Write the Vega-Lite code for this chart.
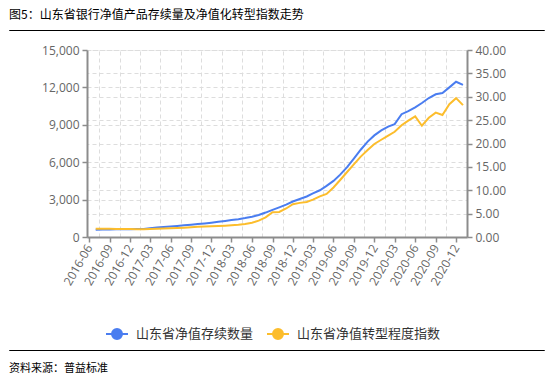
{
  "$schema": "https://vega.github.io/schema/vega-lite/v6.json",
  "padding": {"left": 8, "right": 8, "top": 8, "bottom": 0},
  "background": "white",
  "spacing": 0,
  "config": {
    "view": {"stroke": null},
    "font": "Open Sans"
  },
  "resolve": {"scale": {"color": "independent"}, "legend": {"color": "independent"}},
  "datasets": {
    "d": [
      {"m": "2016/07/01", "count": 590, "idx": 1.75},
      {"m": "2016/08/01", "count": 595, "idx": 1.75},
      {"m": "2016/09/01", "count": 600, "idx": 1.75},
      {"m": "2016/10/01", "count": 615, "idx": 1.72},
      {"m": "2016/11/01", "count": 625, "idx": 1.72},
      {"m": "2016/12/01", "count": 630, "idx": 1.70},
      {"m": "2017/01/01", "count": 635, "idx": 1.68},
      {"m": "2017/02/01", "count": 650, "idx": 1.68},
      {"m": "2017/03/01", "count": 700, "idx": 1.72},
      {"m": "2017/04/01", "count": 760, "idx": 1.75},
      {"m": "2017/05/01", "count": 810, "idx": 1.80},
      {"m": "2017/06/01", "count": 850, "idx": 1.85},
      {"m": "2017/07/01", "count": 890, "idx": 1.92},
      {"m": "2017/08/01", "count": 940, "idx": 2.00},
      {"m": "2017/09/01", "count": 990, "idx": 2.10},
      {"m": "2017/10/01", "count": 1040, "idx": 2.20},
      {"m": "2017/11/01", "count": 1090, "idx": 2.25},
      {"m": "2017/12/01", "count": 1150, "idx": 2.30},
      {"m": "2018/01/01", "count": 1220, "idx": 2.35},
      {"m": "2018/02/01", "count": 1290, "idx": 2.42},
      {"m": "2018/03/01", "count": 1360, "idx": 2.50},
      {"m": "2018/04/01", "count": 1430, "idx": 2.60},
      {"m": "2018/05/01", "count": 1520, "idx": 2.80},
      {"m": "2018/06/01", "count": 1630, "idx": 3.05},
      {"m": "2018/07/01", "count": 1760, "idx": 3.50},
      {"m": "2018/08/01", "count": 1960, "idx": 4.20},
      {"m": "2018/09/01", "count": 2180, "idx": 5.30},
      {"m": "2018/10/01", "count": 2380, "idx": 5.35},
      {"m": "2018/11/01", "count": 2600, "idx": 6.10},
      {"m": "2018/12/01", "count": 2850, "idx": 7.00},
      {"m": "2019/01/01", "count": 3050, "idx": 7.30},
      {"m": "2019/02/01", "count": 3250, "idx": 7.50},
      {"m": "2019/03/01", "count": 3500, "idx": 8.00},
      {"m": "2019/04/01", "count": 3750, "idx": 8.70},
      {"m": "2019/05/01", "count": 4100, "idx": 9.20},
      {"m": "2019/06/01", "count": 4500, "idx": 10.60},
      {"m": "2019/07/01", "count": 5000, "idx": 12.20},
      {"m": "2019/08/01", "count": 5600, "idx": 13.90},
      {"m": "2019/09/01", "count": 6300, "idx": 15.60},
      {"m": "2019/10/01", "count": 7000, "idx": 17.20},
      {"m": "2019/11/01", "count": 7650, "idx": 18.60},
      {"m": "2019/12/01", "count": 8150, "idx": 19.90},
      {"m": "2020/01/01", "count": 8550, "idx": 20.80},
      {"m": "2020/02/01", "count": 8850, "idx": 21.70},
      {"m": "2020/03/01", "count": 9050, "idx": 22.50},
      {"m": "2020/04/01", "count": 9850, "idx": 23.90},
      {"m": "2020/05/01", "count": 10100, "idx": 24.90},
      {"m": "2020/06/01", "count": 10400, "idx": 25.80},
      {"m": "2020/07/01", "count": 10750, "idx": 23.80},
      {"m": "2020/08/01", "count": 11150, "idx": 25.50},
      {"m": "2020/09/01", "count": 11450, "idx": 26.60},
      {"m": "2020/10/01", "count": 11550, "idx": 26.10},
      {"m": "2020/11/01", "count": 12000, "idx": 28.40},
      {"m": "2020/12/01", "count": 12450, "idx": 29.70},
      {"m": "2021/01/01", "count": 12200, "idx": 28.20}
    ]
  },
  "vconcat": [
    {
      "width": 535,
      "height": 0.01,
      "view": {"stroke": "#000000", "strokeWidth": 1},
      "title": {"text": "图5：山东省银行净值产品存续量及净值化转型指数走势", "anchor": "start", "font": "Noto Sans CJK SC", "fontSize": 12, "fontWeight": "normal", "color": "#000000", "offset": 2},
      "data": {"values": [{}]},
      "mark": {"type": "text"},
      "encoding": {"text": {"value": ""}}
    },
    {
      "spacing": 0,
      "resolve": {"legend": {"color": "independent"}},
      "hconcat": [
        {
          "width": 32,
          "height": 187,
          "title": {"text": " ", "fontSize": 9, "offset": 5},
          "data": {"values": [{}]},
          "mark": {"type": "text"},
          "encoding": {"text": {"value": ""}}
        },
        {
          "width": 380,
          "height": 187,
          "data": {"name": "d"},
          "layer": [
            {
              "mark": {"type": "line", "strokeWidth": 2},
              "encoding": {
                "x": {
                  "field": "m", "type": "temporal",
                  "scale": {"domain": [{"year": 2016, "month": 5, "date": 23}, {"year": 2021, "month": 1, "date": 19}]},
                  "axis": {
                    "title": null, "grid": false, "format": "%Y-%m",
                    "values": [
                      {"year": 2016, "month": 6, "date": 1}, {"year": 2016, "month": 9, "date": 1}, {"year": 2016, "month": 12, "date": 1},
                      {"year": 2017, "month": 3, "date": 1}, {"year": 2017, "month": 6, "date": 1}, {"year": 2017, "month": 9, "date": 1}, {"year": 2017, "month": 12, "date": 1},
                      {"year": 2018, "month": 3, "date": 1}, {"year": 2018, "month": 6, "date": 1}, {"year": 2018, "month": 9, "date": 1}, {"year": 2018, "month": 12, "date": 1},
                      {"year": 2019, "month": 3, "date": 1}, {"year": 2019, "month": 6, "date": 1}, {"year": 2019, "month": 9, "date": 1}, {"year": 2019, "month": 12, "date": 1},
                      {"year": 2020, "month": 3, "date": 1}, {"year": 2020, "month": 6, "date": 1}, {"year": 2020, "month": 9, "date": 1}, {"year": 2020, "month": 12, "date": 1}
                    ],
                    "labelAngle": -60, "labelAlign": "right", "labelBaseline": "middle",
                    "labelFontSize": 12, "labelColor": "#666666", "labelPadding": 3,
                    "domainColor": "#8c8c8c", "domainWidth": 2,
                    "tickColor": "#8c8c8c", "tickSize": 5, "tickWidth": 1.5,
                    "labelOverlap": false, "labelFlush": false
                  }
                },
                "y": {
                  "field": "count", "type": "quantitative",
                  "scale": {"domain": [0, 15000], "nice": false},
                  "axis": {
                    "title": null, "values": [0, 3000, 6000, 9000, 12000, 15000], "format": ",d",
                    "labelFontSize": 12, "labelColor": "#666666", "labelPadding": 3,
                    "domainColor": "#8c8c8c", "domainWidth": 2,
                    "tickColor": "#8c8c8c", "tickSize": 5, "tickWidth": 1.5,
                    "grid": true, "gridColor": "#dddddd", "gridDash": [4, 3], "gridWidth": 1
                  }
                },
                "color": {
                  "datum": "山东省净值存续数量", "type": "nominal",
                  "scale": {"domain": ["山东省净值存续数量", "山东省净值转型程度指数"], "range": ["#4A7DF0", "#FCBD2C"]},
                  "legend": {
                    "title": null, "orient": "none", "direction": "horizontal", "legendX": 19, "legendY": 273,
                    "gridAlign": "none",
                    "labelFont": "Noto Sans CJK SC", "labelFontSize": 13, "labelColor": "#333333", "labelLimit": 300,
                    "symbolType": "M-1.1,0L-0.5,0M0.5,0L1.1,0M-0.5,0A0.5,0.5,0,1,0,0.5,0A0.5,0.5,0,1,0,-0.5,0Z",
                    "symbolSize": 400, "symbolStrokeWidth": 2, "labelOffset": 8, "columnPadding": 9,
                    "encode": {"symbols": {"update": {
                      "fill": {"signal": "datum.value === '山东省净值存续数量' ? '#4A7DF0' : '#FCBD2C'"},
                      "stroke": {"signal": "datum.value === '山东省净值存续数量' ? '#4A7DF0' : '#FCBD2C'"}
                    }}}
                  }
                }
              }
            },
            {
              "mark": {"type": "line", "strokeWidth": 2},
              "encoding": {
                "x": {
                  "field": "m", "type": "temporal",
                  "axis": {
                    "orient": "top", "title": null, "domain": false, "ticks": false, "labels": false,
                    "grid": true, "gridColor": "#dddddd", "gridDash": [4, 3], "gridWidth": 1,
                    "values": [
                      {"year": 2016, "month": 7, "date": 16}, {"year": 2016, "month": 10, "date": 16},
                      {"year": 2017, "month": 1, "date": 16}, {"year": 2017, "month": 4, "date": 16}, {"year": 2017, "month": 7, "date": 16}, {"year": 2017, "month": 10, "date": 16},
                      {"year": 2018, "month": 1, "date": 16}, {"year": 2018, "month": 4, "date": 16}, {"year": 2018, "month": 7, "date": 16}, {"year": 2018, "month": 10, "date": 16},
                      {"year": 2019, "month": 1, "date": 16}, {"year": 2019, "month": 4, "date": 16}, {"year": 2019, "month": 7, "date": 16}, {"year": 2019, "month": 10, "date": 16},
                      {"year": 2020, "month": 1, "date": 16}, {"year": 2020, "month": 4, "date": 16}, {"year": 2020, "month": 7, "date": 16}, {"year": 2020, "month": 10, "date": 16}
                    ]
                  }
                },
                "y": {
                  "field": "idx", "type": "quantitative",
                  "scale": {"domain": [0, 40], "nice": false},
                  "axis": {
                    "orient": "right", "title": null, "values": [0, 5, 10, 15, 20, 25, 30, 35, 40], "format": ".2f",
                    "labelFontSize": 12, "labelColor": "#666666", "labelPadding": 3,
                    "domainColor": "#8c8c8c", "domainWidth": 2,
                    "tickColor": "#8c8c8c", "tickSize": 5, "tickWidth": 1.5,
                    "grid": true, "gridColor": "#dddddd", "gridDash": [4, 3], "gridWidth": 1
                  }
                },
                "color": {"datum": "山东省净值转型程度指数", "type": "nominal"}
              }
            }
          ],
          "resolve": {"scale": {"y": "independent"}, "axis": {"x": "independent", "y": "independent"}}
        }
      ]
    },
    {
      "width": 535,
      "height": 0.01,
      "view": {"stroke": "#000000", "strokeWidth": 1},
      "title": {"text": "资料来源：普益标准", "orient": "bottom", "anchor": "start", "font": "Noto Sans CJK SC", "fontSize": 11, "fontWeight": "normal", "color": "#000000", "offset": 8},
      "data": {"values": [{}]},
      "mark": {"type": "text"},
      "encoding": {"text": {"value": ""}}
    }
  ]
}
